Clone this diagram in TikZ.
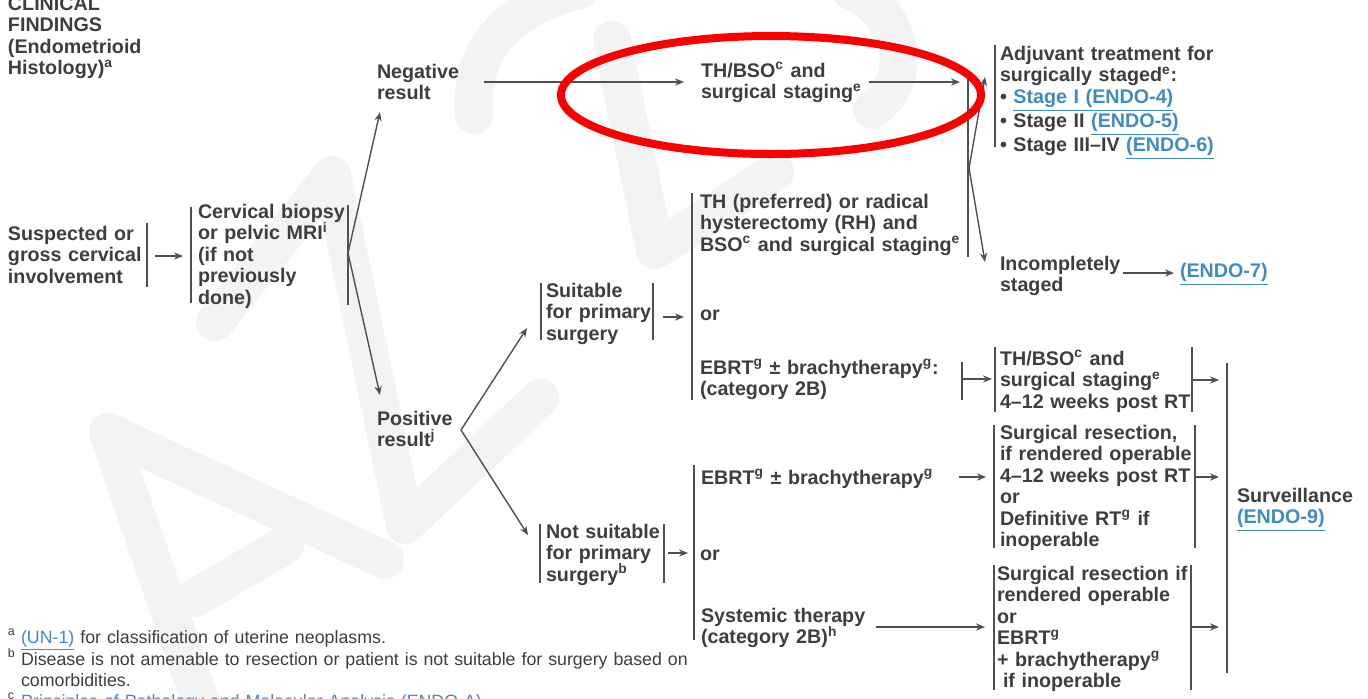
\documentclass[tikz,border=0pt]{standalone}
\usepackage{fontspec}
\setmainfont{Liberation Sans}
\usetikzlibrary{arrows.meta}

\definecolor{ink}{RGB}{62,62,62}
\definecolor{rulegray}{RGB}{80,80,80}
\definecolor{linkblue}{RGB}{62,140,194}
\definecolor{ringred}{RGB}{250,0,0}
\definecolor{wmgray}{RGB}{243,243,243}

\newcommand{\lnk}[1]{\textcolor{linkblue}{\underline{#1}}}
\newcommand{\sps}[1]{\textsuperscript{#1}}

\tikzset{
  txt/.style={anchor=base west, inner sep=0pt, outer sep=0pt, align=left,
    text width=#1, font=\fontsize{9.85}{10.75}\selectfont\bfseries, text=ink},
  txt/.default=160pt,
  note/.style={anchor=base west, inner sep=0pt, outer sep=0pt, align=left,
    text width=400pt, font=\fontsize{8.9}{10.5}\selectfont, text=ink},
  barline/.style={draw=rulegray, line width=0.75pt},
  arr/.style={draw=rulegray, line width=0.7pt, -{Stealth[length=4.5pt,width=3.6pt]}},
  ring/.style={draw=ringred, line width=4pt},
  wmark/.style={draw=wmgray, line width=19pt, line cap=round, line join=round}
}

\begin{document}
\begin{tikzpicture}[x=0.5pt, y=-0.5pt]
\useasboundingbox (0,0) rectangle (1368,698);
\fill[white] (0,0) rectangle (1368,698);

% ---------- faint background lettering ----------
\begin{scope}
\clip (0,0) rectangle (1368,698);
\draw[wmark] (205,715) -- (108,432) -- (385,560);
\draw[wmark] (195,598) -- (285,545);
\draw[wmark] (215,322) -- (332,175) -- (405,525) -- (540,398);
\draw[wmark] (474,115) .. controls (468,45) and (515,5) .. (580,-10);
\draw[wmark] (612,40) -- (655,250) -- (775,172);
\draw[wmark] (850,-10) .. controls (905,15) and (915,80) .. (872,110);
\end{scope}

% ---------- text blocks ----------
\node[txt] (head) at (8,10) {CLINICAL\\FINDINGS\\(Endometrioid\\Histology)\sps{a}};
\node[txt] (susp) at (8,240) {Suspected or\\gross cervical\\involvement};
\node[txt] (biop) at (198,218) {Cervical biopsy\\or pelvic MRI\sps{i}\\(if not\\previously\\done)};
\node[txt] (neg) at (377,78) {Negative\\result};
\node[txt] (pos) at (377,425) {Positive\\result\sps{j}};
\node[txt] (thbso) at (701,77) {TH/BSO\sps{c} and\\surgical staging\sps{e}};
\node[txt] (adj) at (1000,60) {Adjuvant treatment for\\surgically staged\sps{e}:\\%
  \textbullet\ \lnk{Stage I (ENDO-4)}\\\textbullet\ Stage II \lnk{(ENDO-5)}\\%
  \textbullet\ Stage III--IV \lnk{(ENDO-6)}};
\node[txt] (inc) at (1000,270) {Incompletely\\staged};
\node[txt] (endo7) at (1180,277) {\lnk{(ENDO-7)}};
\node[txt] (thpref) at (700,208) {TH (preferred) or radical\\hysterectomy (RH) and\\BSO\sps{c} and surgical staging\sps{e}};
\node[txt] (orA) at (700,320) {or};
\node[txt] (ebrtA) at (700,374) {EBRT\sps{g} \textpm\ brachytherapy\sps{g}:\\(category 2B)};
\node[txt] (suit) at (546,297) {Suitable\\for primary\\surgery};
\node[txt] (nots) at (546,538) {Not suitable\\for primary\\surgery\sps{b}};
\node[txt] (thbsoB) at (1000,365) {TH/BSO\sps{c} and\\surgical staging\sps{e}\\4--12 weeks post RT};
\node[txt] (resA) at (1000,439) {Surgical resection,\\if rendered operable\\4--12 weeks post RT\\or\\Definitive RT\sps{g} if\\inoperable};
\node[txt] (ebrtB) at (701,484) {EBRT\sps{g} \textpm\ brachytherapy\sps{g}};
\node[txt] (orB) at (700,560) {or};
\node[txt] (syst) at (701,622) {Systemic therapy\\(category 2B)\sps{h}};
\node[txt] (resB) at (997,580) {Surgical resection if\\rendered operable\\or\\EBRT\sps{g}\\+ brachytherapy\sps{g}\\\hspace*{3pt}if inoperable};
\node[txt] (surv) at (1237,502) {Surveillance\\\lnk{(ENDO-9)}};

% ---------- footnotes ----------
\node[note] (fa) at (8,643) {\sps{a}};
\node[note] (fat) at (21,643) {\lnk{(UN-1)} for classification of uterine neoplasms.};
\node[note] (fb) at (8,665) {\sps{b}};
\node[note] (fbt) at (21,665) {Disease is not amenable to resection or patient is not suitable for surgery based on\\comorbidities.};
\node[note] (fc) at (8,707) {\sps{c}};
\node[note] (fct) at (21,707) {\textcolor{linkblue}{Principles of Pathology and Molecular Analysis (ENDO-A)}};

% ---------- bar coordinates ----------
\foreach \nm/\x/\ya/\yb in {
  suspR/147/223/287, biopL/191/207/303, biopR/348/205/305,
  midR/968/73/257, adjL/995/45/147,
  suitL/541/283/340, suitR/653/283/340, optA/692/193/400,
  ebrtAR/962/362/400, thbsoBL/995/347/412, thbsoBR/1192/347/412,
  survL/1227/363/673,
  notsL/540/524/583, notsR/664/524/583, optB/694/465/640,
  resAL/994/425/548, resAR/1195/425/548,
  resBL/994/565/690, resBR/1191/565/690}{
  \coordinate (\nm-t) at (\x,\ya);
  \coordinate (\nm-b) at (\x,\yb);
  \draw[barline] (\nm-t) -- (\nm-b);
}

% ---------- connector end points ----------
\coordinate (c1s) at (155,256);  \coordinate (c1e) at (183,256);
\coordinate (fk1) at (348,253);
\coordinate (negIn) at (380,112); \coordinate (posIn) at (380,395);
\coordinate (negOut) at (484,82); \coordinate (thIn) at (684,82);
\coordinate (thOut) at (869,82);  \coordinate (midIn) at (960,82);
\coordinate (fk2) at (969,168);
\coordinate (adjIn) at (985,77);  \coordinate (incIn) at (985,262);
\coordinate (incOut) at (1123,273); \coordinate (e7In) at (1174,273);
\coordinate (fk3) at (461,430);
\coordinate (suitIn) at (527,328); \coordinate (notsIn) at (528,535);
\coordinate (suitOut) at (663,317); \coordinate (optAIn) at (684,317);
\coordinate (ebrtAOut) at (962,379); \coordinate (thbsoBIn) at (992,379);
\coordinate (thbsoBOut) at (1192,380); \coordinate (sv1) at (1219,380);
\coordinate (ebrtBOut) at (959,477); \coordinate (resAIn) at (986,477);
\coordinate (resAOut) at (1195,477); \coordinate (sv2) at (1219,477);
\coordinate (notsOut) at (668,553); \coordinate (optBIn) at (688,553);
\coordinate (systOut) at (876,627); \coordinate (resBIn) at (985,627);
\coordinate (resBOut) at (1191,627); \coordinate (sv3) at (1219,627);

% ---------- connectors ----------
\draw[arr] (c1s) -- (c1e);
\draw[arr] (fk1) -- (negIn);
\draw[arr] (fk1) -- (posIn);
\draw[arr] (negOut) -- (thIn);
\draw[arr] (thOut) -- (midIn);
\draw[arr] (fk2) -- (adjIn);
\draw[arr] (fk2) -- (incIn);
\draw[arr] (incOut) -- (e7In);
\draw[arr] (fk3) -- (suitIn);
\draw[arr] (fk3) -- (notsIn);
\draw[arr] (suitOut) -- (optAIn);
\draw[arr] (ebrtAOut) -- (thbsoBIn);
\draw[arr] (thbsoBOut) -- (sv1);
\draw[arr] (ebrtBOut) -- (resAIn);
\draw[arr] (resAOut) -- (sv2);
\draw[arr] (notsOut) -- (optBIn);
\draw[arr] (systOut) -- (resBIn);
\draw[arr] (resBOut) -- (sv3);

% ---------- highlight ring ----------
\draw[ring] (771,95) ellipse [x radius=210, y radius=59];
\end{tikzpicture}
\end{document}
